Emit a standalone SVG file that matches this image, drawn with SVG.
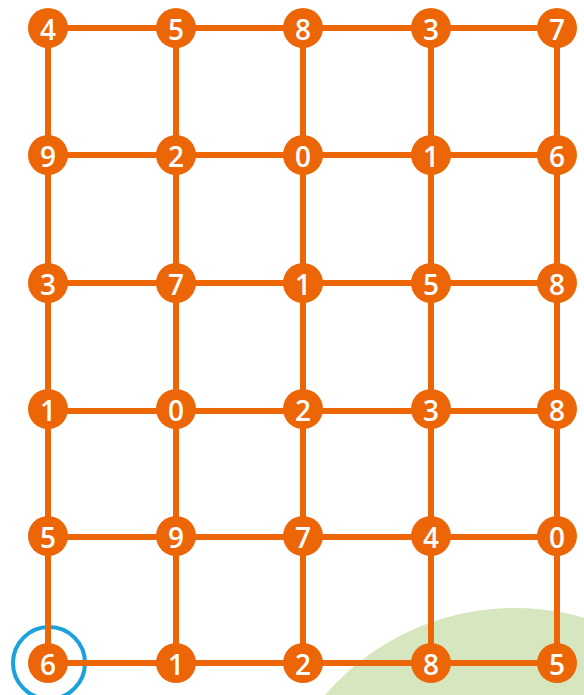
<svg xmlns="http://www.w3.org/2000/svg" width="584" height="695" viewBox="0 0 584 695">
<style>
.ln{stroke:#ec6608;stroke-width:6;fill:none}
.nd circle{fill:#ec6608}
.nd text{fill:#fff;font-family:"Open Sans","Noto Sans",sans-serif;font-weight:600;font-size:28px;text-anchor:middle;dominant-baseline:central}
</style>
<rect width="584" height="695" fill="#fff"/>
<circle id="bg-green" cx="515" cy="859" r="251" fill="#d6e6be"/>
<circle id="highlight" cx="49" cy="663" r="36" fill="none" stroke="#1ba1db" stroke-width="4"/>
<g id="connectors">
<line class="ln" x1="48" y1="28" x2="557" y2="28"/>
<line class="ln" x1="48" y1="155" x2="557" y2="155"/>
<line class="ln" x1="48" y1="283" x2="557" y2="283"/>
<line class="ln" x1="48" y1="411" x2="557" y2="411"/>
<line class="ln" x1="48" y1="537" x2="557" y2="537"/>
<line class="ln" x1="48" y1="663" x2="557" y2="663"/>
<line class="ln" x1="48" y1="28" x2="48" y2="663"/>
<line class="ln" x1="176" y1="28" x2="176" y2="663"/>
<line class="ln" x1="303" y1="28" x2="303" y2="663"/>
<line class="ln" x1="431" y1="28" x2="431" y2="663"/>
<line class="ln" x1="557" y1="28" x2="557" y2="663"/>
</g>
<g id="n-0-0" class="nd"><circle cx="48" cy="28" r="20"/><text x="48" y="29">4</text></g>
<g id="n-0-1" class="nd"><circle cx="176" cy="28" r="20"/><text x="176" y="29">5</text></g>
<g id="n-0-2" class="nd"><circle cx="303" cy="28" r="20"/><text x="303" y="29">8</text></g>
<g id="n-0-3" class="nd"><circle cx="431" cy="28" r="20"/><text x="431" y="29">3</text></g>
<g id="n-0-4" class="nd"><circle cx="557" cy="28" r="20"/><text x="557" y="29">7</text></g>
<g id="n-1-0" class="nd"><circle cx="48" cy="155" r="20"/><text x="48" y="156">9</text></g>
<g id="n-1-1" class="nd"><circle cx="176" cy="155" r="20"/><text x="176" y="156">2</text></g>
<g id="n-1-2" class="nd"><circle cx="303" cy="155" r="20"/><text x="303" y="156">0</text></g>
<g id="n-1-3" class="nd"><circle cx="431" cy="155" r="20"/><text x="431" y="156">1</text></g>
<g id="n-1-4" class="nd"><circle cx="557" cy="155" r="20"/><text x="557" y="156">6</text></g>
<g id="n-2-0" class="nd"><circle cx="48" cy="283" r="20"/><text x="48" y="284">3</text></g>
<g id="n-2-1" class="nd"><circle cx="176" cy="283" r="20"/><text x="176" y="284">7</text></g>
<g id="n-2-2" class="nd"><circle cx="303" cy="283" r="20"/><text x="303" y="284">1</text></g>
<g id="n-2-3" class="nd"><circle cx="431" cy="283" r="20"/><text x="431" y="284">5</text></g>
<g id="n-2-4" class="nd"><circle cx="557" cy="283" r="20"/><text x="557" y="284">8</text></g>
<g id="n-3-0" class="nd"><circle cx="48" cy="409" r="20"/><text x="48" y="410">1</text></g>
<g id="n-3-1" class="nd"><circle cx="176" cy="409" r="20"/><text x="176" y="410">0</text></g>
<g id="n-3-2" class="nd"><circle cx="303" cy="409" r="20"/><text x="303" y="410">2</text></g>
<g id="n-3-3" class="nd"><circle cx="431" cy="409" r="20"/><text x="431" y="410">3</text></g>
<g id="n-3-4" class="nd"><circle cx="557" cy="409" r="20"/><text x="557" y="410">8</text></g>
<g id="n-4-0" class="nd"><circle cx="48" cy="536" r="20"/><text x="48" y="537">5</text></g>
<g id="n-4-1" class="nd"><circle cx="176" cy="536" r="20"/><text x="176" y="537">9</text></g>
<g id="n-4-2" class="nd"><circle cx="303" cy="536" r="20"/><text x="303" y="537">7</text></g>
<g id="n-4-3" class="nd"><circle cx="431" cy="536" r="20"/><text x="431" y="537">4</text></g>
<g id="n-4-4" class="nd"><circle cx="557" cy="536" r="20"/><text x="557" y="537">0</text></g>
<g id="n-5-0" class="nd"><circle cx="48" cy="663" r="20"/><text x="48" y="664">6</text></g>
<g id="n-5-1" class="nd"><circle cx="176" cy="663" r="20"/><text x="176" y="664">1</text></g>
<g id="n-5-2" class="nd"><circle cx="303" cy="663" r="20"/><text x="303" y="664">2</text></g>
<g id="n-5-3" class="nd"><circle cx="431" cy="663" r="20"/><text x="431" y="664">8</text></g>
<g id="n-5-4" class="nd"><circle cx="557" cy="663" r="20"/><text x="557" y="664">5</text></g>
</svg>
